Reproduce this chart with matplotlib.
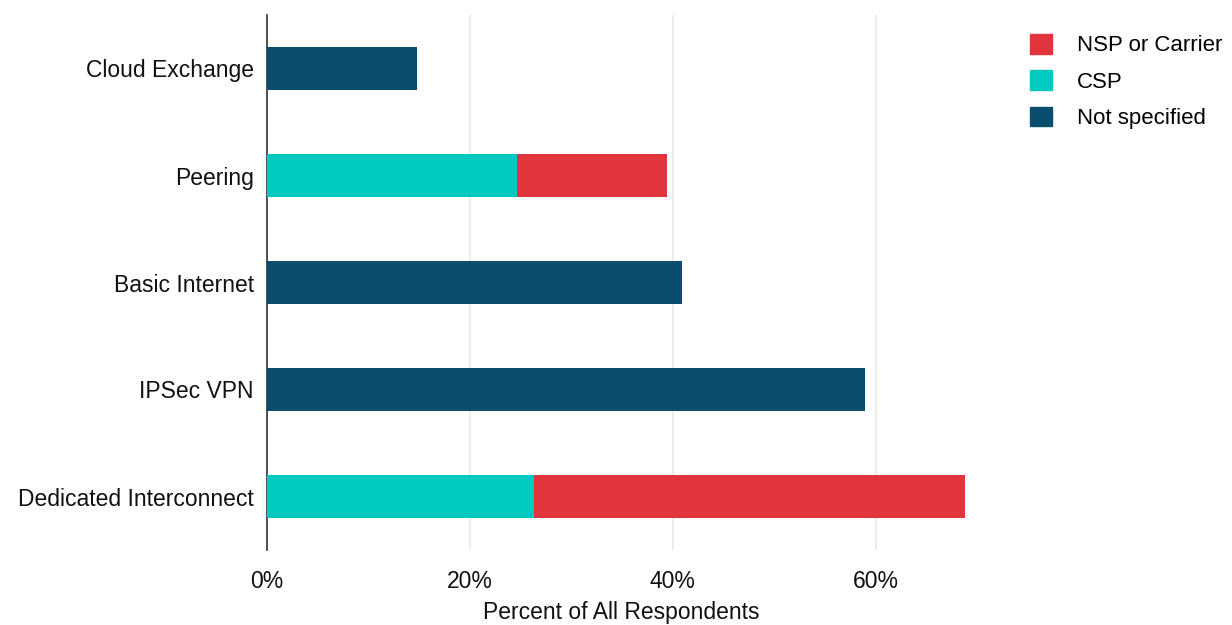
import numpy as np
import matplotlib.pyplot as plt
from matplotlib.patches import Patch

plt.rcParams['font.family'] = ['Liberation Sans', 'DejaVu Sans']

# Data (percent of all respondents)
categories = ['Cloud Exchange', 'Peering', 'Basic Internet', 'IPSec VPN', 'Dedicated Interconnect']
csp = [0, 24.6, 0, 0, 26.3]
nsp = [0, 14.8, 0, 0, 42.5]
not_specified = [14.8, 0, 40.9, 59.0, 0]

c_nsp = '#e0353c'
c_csp = '#00c9c0'
c_not = '#0a4d6e'

fs = 16.5

fig = plt.figure(figsize=(12.32, 6.25), dpi=100)
ax = fig.add_axes([267/1232, 1 - 550/625, (975-267)/1232, (550-15)/625])

y = np.arange(len(categories))
h = 0.40
ax.barh(y, csp, height=h, color=c_csp, zorder=3)
ax.barh(y, nsp, left=csp, height=h, color=c_nsp, zorder=3)
ax.barh(y, not_specified, height=h, color=c_not, zorder=3)

ax.set_ylim(4.5, -0.5)
ax.set_xlim(0, 69.8)
ax.set_yticks(y)
ax.set_yticklabels(categories, fontsize=fs, color='#111111')
ax.set_xticks([0, 20, 40, 60])
ax.set_xticklabels(['0%', '20%', '40%', '60%'], fontsize=fs, color='#111111')
ax.tick_params(axis='both', length=0)
ax.tick_params(axis='y', pad=9.5)
ax.tick_params(axis='x', pad=14.5)
ax.xaxis.grid(True, color='#e8e8e8', linewidth=1.2, zorder=0)
ax.set_axisbelow(True)
for s in ['top', 'right', 'bottom']:
    ax.spines[s].set_visible(False)
ax.spines['left'].set_color('#333333')
ax.spines['left'].set_linewidth(1.2)
ax.set_xlabel('Percent of All Respondents', fontsize=fs, color='#111111', labelpad=6)

handles = [Patch(color=c_nsp, label='NSP or Carrier'),
           Patch(color=c_csp, label='CSP'),
           Patch(color=c_not, label='Not specified')]
fig.legend(handles=handles, loc='upper left', bbox_to_anchor=(1030/1232, 1 - 34/625),
           frameon=False, fontsize=16, handlelength=0.98, handleheight=0.98,
           handletextpad=1.15, labelspacing=0.63, borderaxespad=0, borderpad=0)

fig.savefig('out.png', dpi=100)
